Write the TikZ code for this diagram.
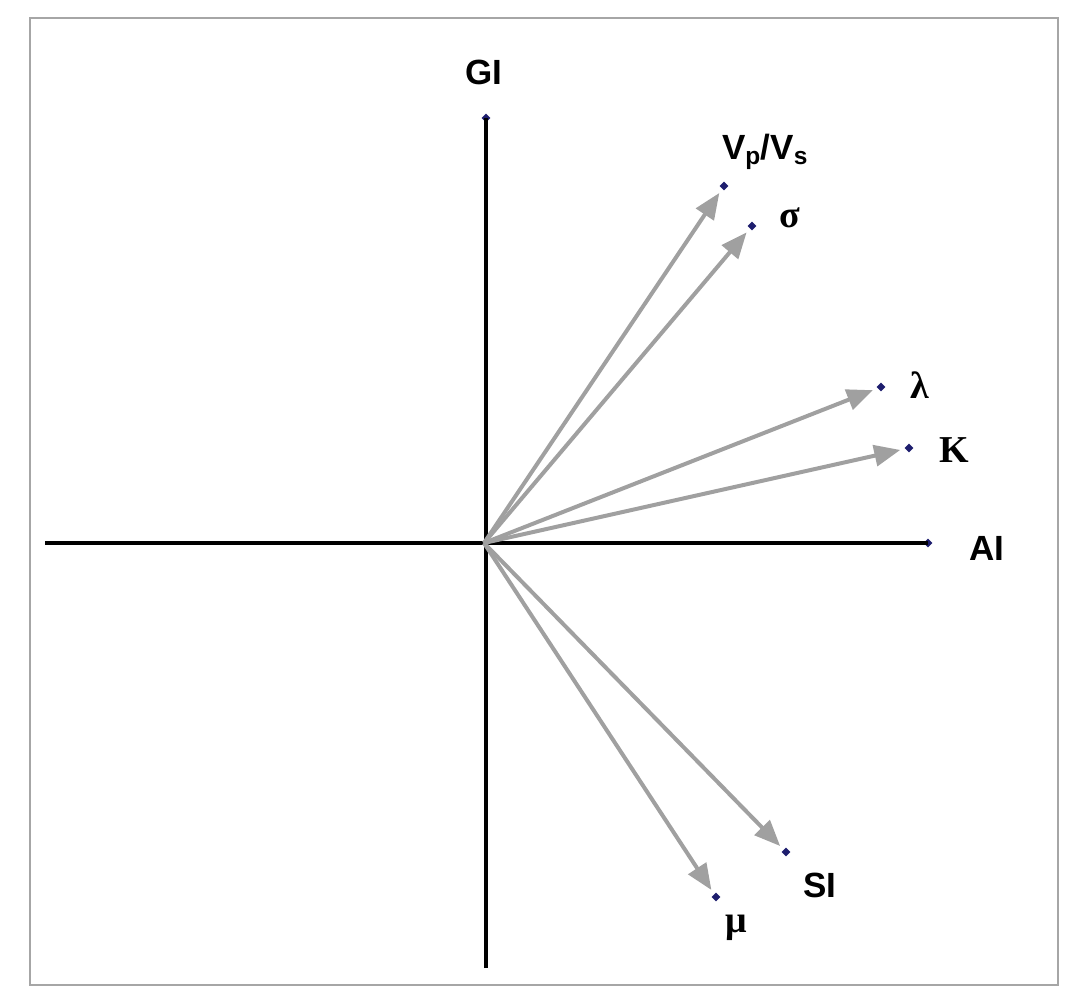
\documentclass[tikz,border=0pt]{standalone}
\usepackage{fontspec}
\setmainfont{Liberation Sans}
\newfontfamily\grk{Liberation Serif}
\usetikzlibrary{arrows.meta,shapes.geometric}
\definecolor{arr}{RGB}{160,160,160}
\definecolor{dotc}{RGB}{30,30,110}
\begin{document}
\begin{tikzpicture}[x=1pt,y=-1pt,
  axis/.style={line width=4pt,black},
  vec/.style={line width=4pt,arr,-{Triangle[length=26pt,width=21pt]},shorten >=5pt},
  pt/.style={diamond,fill=dotc,inner sep=0pt,minimum size=9pt},
  lab/.style={font=\bfseries\fontsize{35}{40}\selectfont},
  glab/.style={font=\grk\bfseries\fontsize{38}{44}\selectfont}]
\useasboundingbox (0,0) rectangle (1090,1000);
\draw[line width=2.5pt,gray!70] (30,18) rectangle (1058,985);
\coordinate (o) at (484,543);
\coordinate (l) at (45,543);
\coordinate (b) at (486,968);
\node[pt] (gi) at (486,118) {};
\node[pt] (ai) at (928,543) {};
\node[pt] (vp) at (724,186) {};
\node[pt] (sg) at (752,226) {};
\node[pt] (la) at (881,387) {};
\node[pt] (k) at (909,448) {};
\node[pt] (si) at (786,852) {};
\node[pt] (mu) at (716,897) {};
\draw[axis] (l) -- (ai.center);
\draw[axis] (b) -- (gi.center);
\foreach \t in {vp,sg,la,k,si,mu} \draw[vec] (o) -- (\t);
\node[lab] at (484,72) {GI};
\node[lab] at (987,548) {AI};
\node[lab] at (820,885) {SI};
\node[lab] at (765,152) {V\textsubscript{p}/V\textsubscript{s}};
\node[glab] at (790,218) {σ};
\node[glab] at (920,385) {λ};
\node[glab] at (954,450) {K};
\node[glab] at (736,928) {μ};
\end{tikzpicture}
\end{document}
